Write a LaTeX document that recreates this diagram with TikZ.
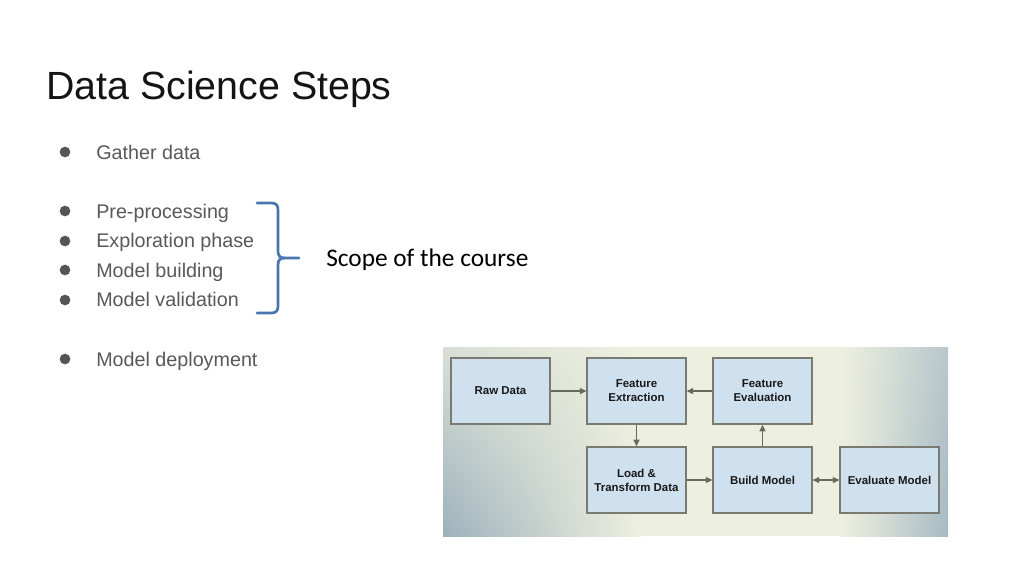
\documentclass[tikz,border=0pt]{standalone}
\usepackage{fontspec}
\setmainfont{Liberation Sans}
\newfontfamily\calib{Carlito}
\usetikzlibrary{arrows.meta,shadings}
\definecolor{titlecol}{HTML}{141414}
\definecolor{bulletcol}{HTML}{595959}
\definecolor{dotcol}{HTML}{555555}
\definecolor{bracecol}{HTML}{4A76B0}
\definecolor{boxfill}{HTML}{CFE0EF}
\definecolor{boxline}{HTML}{7A7A70}
\definecolor{arrowcol}{HTML}{666A5C}
\definecolor{bgin}{HTML}{EEF0DF}
\definecolor{bgtl}{HTML}{D9DFD6}
\definecolor{bgbl}{HTML}{9DB1BC}
\definecolor{bgtr}{HTML}{B7C7CC}
\definecolor{bgbr}{HTML}{A7BAC3}
\tikzset{
  bul/.style={anchor=base west, text=bulletcol, inner sep=0pt, font=\fontsize{14.8}{17}\selectfont},
  dot/.style={circle, fill=dotcol, minimum size=8pt, inner sep=0pt},
  stepbox/.style={draw=boxline, line width=1.1pt, fill=boxfill, minimum width=74pt, minimum height=49.5pt, inner sep=1pt, align=center, text=black!90, font=\bfseries\fontsize{8.6}{10.5}\selectfont},
  flow/.style={draw=arrowcol, line width=1.1pt, -{Triangle[length=5pt,width=4.5pt]}},
  flowboth/.style={draw=arrowcol, line width=1.1pt, {Triangle[length=5pt,width=4.5pt]}-{Triangle[length=5pt,width=4.5pt]}}
}
\begin{document}
\begin{tikzpicture}[x=0.75pt,y=-0.75pt]
\useasboundingbox (0,0) rectangle (1024,576);
\fill[white] (0,0) rectangle (1024,576);
% title
\node[anchor=base west, inner sep=0pt, text=titlecol, font=\fontsize{29.5}{34}\selectfont] (title) at (46,99) {Data Science Steps};
% bullets
\node[dot] (d1) at (65,152) {};
\node[bul] (b1) at (96,159) {Gather data};
\node[dot] (d2) at (65,211) {};
\node[bul] (b2) at (96,218) {Pre-processing};
\node[dot] (d3) at (65,241) {};
\node[bul] (b3) at (96,247.6) {Exploration phase};
\node[dot] (d4) at (65,270) {};
\node[bul] (b4) at (96,277.2) {Model building};
\node[dot] (d5) at (65,300) {};
\node[bul] (b5) at (96,306.8) {Model validation};
\node[dot] (d6) at (65,359) {};
\node[bul] (b6) at (96,366) {Model deployment};
% brace
\draw[bracecol, line width=2pt, line cap=round, line join=round]
  (257,203) -- (271,203) .. controls (276,203) and (278,205) .. (278,210) -- (278,251)
  .. controls (278,256) and (280,258) .. (285,258) -- (299,258);
\draw[bracecol, line width=2pt, line cap=round, line join=round]
  (285,258) .. controls (280,258) and (278,260) .. (278,265) -- (278,306)
  .. controls (278,311) and (276,313) .. (271,313) -- (257,313);
\node[anchor=base west, inner sep=0pt, font=\calib\fontsize{19}{22}\selectfont] (scope) at (326,266) {Scope of the course};
% image background
\fill[bgin] (640,347) rectangle (842,536);
\shade[upper left=bgtl, lower left=bgbl, upper right=bgin, lower right=bgin] (443,347) rectangle (641,536);
\shade[upper left=bgin, lower left=bgin, upper right=bgtr, lower right=bgbr] (841,347) rectangle (948,536);
% boxes
\node[stepbox] (raw) at (500.5,391) {Raw Data};
\node[stepbox] (fext) at (636.5,391) {Feature\\Extraction};
\node[stepbox] (feval) at (762.5,391) {Feature\\Evaluation};
\node[stepbox] (load) at (636.5,480) {Load \&\\Transform Data};
\node[stepbox] (build) at (762.5,480) {Build Model};
\node[stepbox] (evalm) at (889.5,480) {Evaluate Model};
% connectors
\draw[flow] (raw.east) -- (fext.west);
\draw[flow] (feval.west) -- (fext.east);
\draw[flow] (fext.south) -- (load.north);
\draw[flow] (load.east) -- (build.west);
\draw[flow] (build.north) -- (feval.south);
\draw[flowboth] (build.east) -- (evalm.west);
\end{tikzpicture}
\end{document}
